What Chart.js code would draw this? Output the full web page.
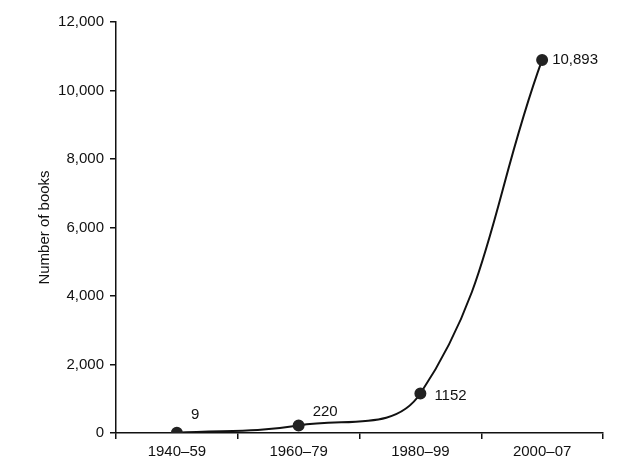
<!DOCTYPE html>
<html><head><meta charset="utf-8">
<script src="https://cdn.jsdelivr.net/npm/chart.js@4"></script>
<style>html,body{margin:0;padding:0;background:#fff}#w{width:634px;height:476px}</style>
</head><body><div id="w"><canvas id="c"></canvas></div>
<script>
const categories = ["1940–59","1960–79","1980–99","2000–07"];
const books = [9, 220, 1152, 10893];
const pointLabels = ["9","220","1152","10,893"];
const yTicks = [0,2000,4000,6000,8000,10000,12000];

const labelOffsets = [[14,-18],[14,-14],[14,2],[10,0]];
const labelPlugin = {
  id:'lbl',
  afterDatasetsDraw(chart){
    const ctx = chart.ctx, meta = chart.getDatasetMeta(0);
    ctx.save();
    ctx.font = '15px "Liberation Sans", Arial, sans-serif';
    ctx.fillStyle = '#111'; ctx.textBaseline='middle'; ctx.textAlign='left';
    meta.data.forEach((p,i)=>{
      ctx.fillText(pointLabels[i], p.x+labelOffsets[i][0], p.y+labelOffsets[i][1]);
    });
    ctx.restore();
  }
};
Chart.defaults.font.family = '"Liberation Sans", Arial, sans-serif';
Chart.defaults.color = '#111';
new Chart(document.getElementById('c'), {
  type:'line',
  data:{labels:categories, datasets:[{data:books, borderColor:'#111', borderWidth:2,
    tension:0.4, pointRadius:5, pointBackgroundColor:'#222', pointBorderColor:'#222'}]},
  plugins:[labelPlugin],
  options:{
    responsive:true, maintainAspectRatio:false, animation:false,
    layout:{padding:{top:22,right:31,left:32,bottom:0}},
    plugins:{legend:{display:false},tooltip:{enabled:false}},
    scales:{
      x:{offset:true,
        grid:{display:true,offset:true,drawOnChartArea:false,tickLength:6,color:'#111',lineWidth:1.5},
        border:{display:true,color:'#111',width:1.5},
        ticks:{font:{size:15},padding:4,maxRotation:0},
        afterFit(s){s.height=43;}},
      y:{min:0,max:12000,
        afterBuildTicks(s){s.ticks=yTicks.map(v=>({value:v}));},
        grid:{drawOnChartArea:false,tickLength:6,color:'#111',lineWidth:1.5},
        border:{display:true,color:'#111',width:1.5},
        ticks:{font:{size:15},padding:6,callback:v=>v.toLocaleString('en-US')},
        title:{display:true,text:'Number of books',font:{size:15},padding:{bottom:0}},
        afterFit(s){s.width=84;}}
    }
  }
});
</script></body></html>
